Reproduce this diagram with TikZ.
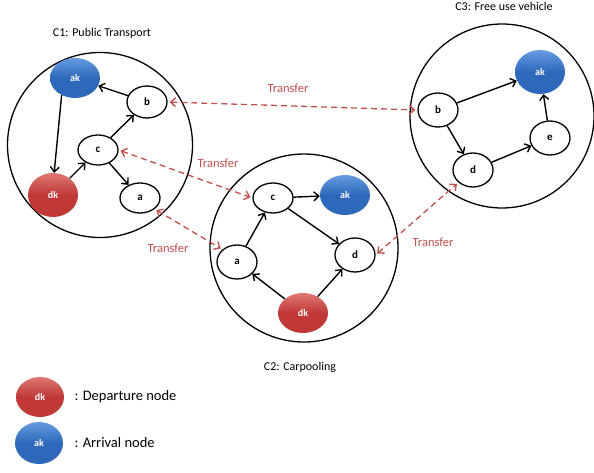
\documentclass[tikz,border=0pt]{standalone}
\usepackage{fontspec}
\setmainfont{Carlito}
\usetikzlibrary{arrows.meta,shapes.geometric}
\definecolor{redn}{RGB}{192,57,55}
\definecolor{redt}{RGB}{222,120,115}
\definecolor{bluen}{RGB}{46,104,186}
\definecolor{bluet}{RGB}{100,155,225}
\definecolor{trf}{RGB}{192,80,77}
\tikzset{
  cluster/.style={circle,draw=black,line width=1.3pt},
  wnode/.style={ellipse,draw=black,line width=1.3pt,fill=white,minimum width=40pt,minimum height=32pt,inner sep=0pt,font=\fontsize{11}{13}\selectfont\bfseries},
  dnode/.style={ellipse,draw=none,top color=redt,bottom color=redn,middle color=redn,minimum width=50pt,minimum height=42pt,inner sep=0pt,text=white,font=\fontsize{10}{12}\selectfont\bfseries},
  anode/.style={ellipse,draw=none,top color=bluet,bottom color=bluen,middle color=bluen,minimum width=50pt,minimum height=40pt,inner sep=0pt,text=white,font=\fontsize{10}{12}\selectfont\bfseries},
  arr/.style={-{Straight Barb[length=5pt,width=9pt]},line width=1.4pt,black},
  trans/.style={{Straight Barb[length=5pt,width=9pt]}-{Straight Barb[length=5pt,width=9pt]},line width=1.3pt,trf,dash pattern=on 6pt off 4pt,shorten <=2pt,shorten >=2pt},
  tlabel/.style={text=trf,font=\fontsize{12.5}{14}\selectfont},
  clabel/.style={font=\fontsize{12}{14}\selectfont},
  leg/.style={font=\fontsize{14.5}{17}\selectfont,anchor=west}
}
\begin{document}
\begin{tikzpicture}[x=1pt,y=-1pt]
\useasboundingbox (0,0) rectangle (594,473);
% clusters
\node[cluster,minimum size=185pt] (C1) at (100,145) {};
\node[cluster,minimum size=188pt] (C2) at (304,248) {};
\node[cluster,minimum size=184pt] (C3) at (502,116) {};
\node[clabel] (l1) at (102,33) {C1: Public Transport};
\node[clabel] (l2) at (300,367) {C2: Carpooling};
\node[clabel] (l3) at (504,6) {C3: Free use vehicle};
% C1 nodes
\node[anode] (ak1) at (75,78) {ak};
\node[wnode] (b1) at (147,102) {b};
\node[wnode,minimum height=30pt] (c1) at (98,150) {c};
\node[dnode,minimum height=44pt] (dk1) at (53,195) {dk};
\node[wnode,minimum height=30pt] (a1) at (140,198) {a};
\draw[arr] (b1) -- (ak1);
\draw[arr] (ak1.232) -- (dk1.87);
\draw[arr] (dk1) -- (c1);
\draw[arr] (c1) -- (b1);
\draw[arr] (c1) -- (a1);
% C2 nodes
\node[wnode,minimum height=30pt] (c2) at (273,198) {c};
\node[anode] (ak2) at (345,195) {ak};
\node[wnode,minimum height=34pt] (a2) at (237,262) {a};
\node[wnode,minimum height=34pt] (d2) at (355,255) {d};
\node[dnode,minimum height=40pt] (dk2) at (303,313) {dk};
\draw[arr] (a2) -- (c2);
\draw[arr] (c2) -- (ak2);
\draw[arr] (c2) -- (d2);
\draw[arr] (dk2) -- (a2);
\draw[arr] (dk2) -- (d2);
% C3 nodes
\node[anode,minimum height=44pt] (ak3) at (540,72) {ak};
\node[wnode,minimum height=34pt] (b3) at (438,110) {b};
\node[wnode,minimum height=34pt] (e3) at (550,138) {e};
\node[wnode,minimum height=34pt] (d3) at (473,170) {d};
\draw[arr] (b3) -- (ak3);
\draw[arr] (b3) -- (d3);
\draw[arr] (d3) -- (e3);
\draw[arr] (e3) -- (ak3);
% transfers
\draw[trans] (b1.east) -- (b3.west);
\draw[trans] (c1.east) -- (c2.west);
\draw[trans] (a1.south east) -- (a2.north west);
\draw[trans] (d2.east) -- (d3.south west);
\node[tlabel] (t1) at (288,88) {Transfer};
\node[tlabel] (t2) at (218,163) {Transfer};
\node[tlabel] (t3) at (168,248) {Transfer};
\node[tlabel] (t4) at (433,242) {Transfer};
% legend
\node[dnode,minimum width=48pt,minimum height=40pt] (ld) at (40,397) {dk};
\node[anode,minimum width=48pt,minimum height=42pt] (la) at (39,443) {ak};
\node[leg] (ldt) at (71,397) {: Departure node};
\node[leg] (lat) at (71,443) {: Arrival node};
\end{tikzpicture}
\end{document}
